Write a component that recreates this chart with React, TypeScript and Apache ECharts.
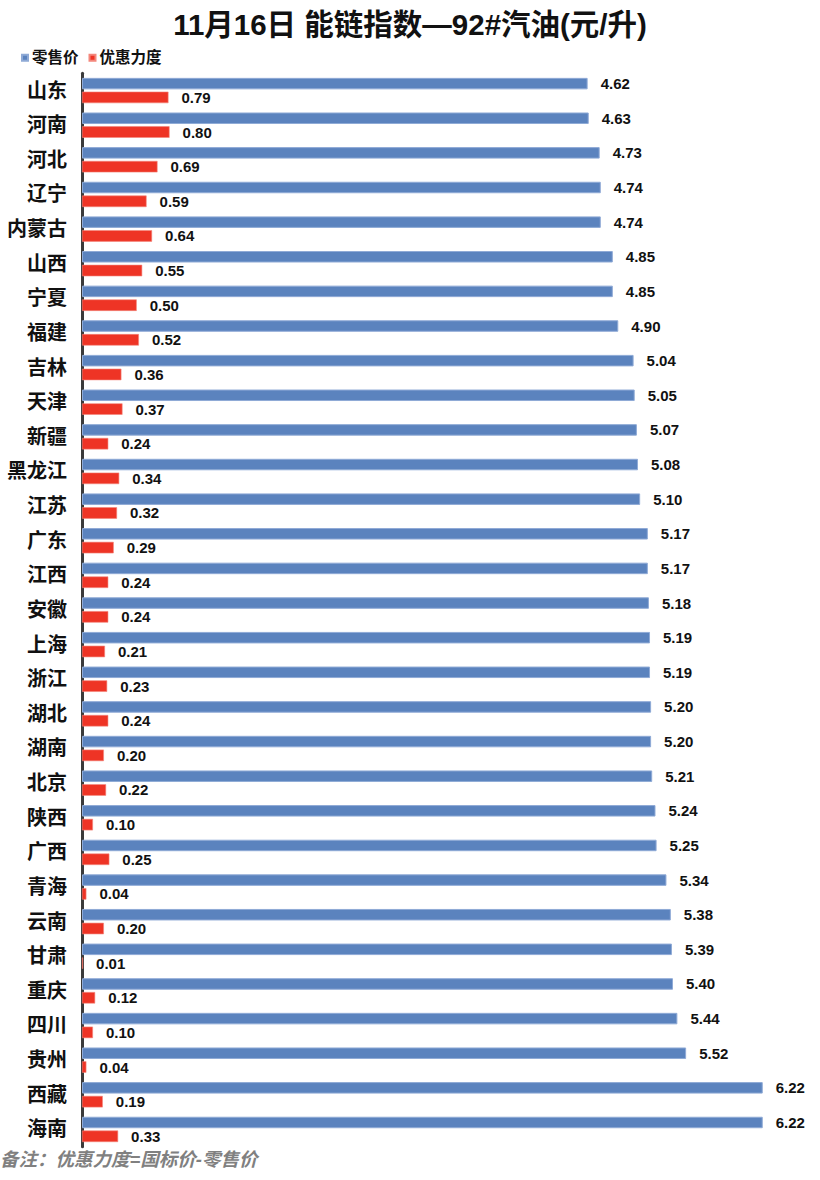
import React, { useEffect, useRef } from "react";
import * as echarts from "echarts";

const provinces = [
  "山东", "河南", "河北", "辽宁", "内蒙古", "山西", "宁夏", "福建", "吉林", "天津",
  "新疆", "黑龙江", "江苏", "广东", "江西", "安徽", "上海", "浙江", "湖北", "湖南",
  "北京", "陕西", "广西", "青海", "云南", "甘肃", "重庆", "四川", "贵州", "西藏", "海南",
];
const retailPrice = [
  4.62, 4.63, 4.73, 4.74, 4.74, 4.85, 4.85, 4.9, 5.04, 5.05,
  5.07, 5.08, 5.1, 5.17, 5.17, 5.18, 5.19, 5.19, 5.2, 5.2,
  5.21, 5.24, 5.25, 5.34, 5.38, 5.39, 5.4, 5.44, 5.52, 6.22, 6.22,
];
const discount = [
  0.79, 0.8, 0.69, 0.59, 0.64, 0.55, 0.5, 0.52, 0.36, 0.37,
  0.24, 0.34, 0.32, 0.29, 0.24, 0.24, 0.21, 0.23, 0.24, 0.2,
  0.22, 0.1, 0.25, 0.04, 0.2, 0.01, 0.12, 0.1, 0.04, 0.19, 0.33,
];
const seriesNames = ["零售价", "优惠力度"];
const titleText = "11月16日 能链指数—92#汽油(元/升)";
const noteText = "备注：优惠力度=国标价-零售价";

const FONT = '"Liberation Sans", "Noto Sans CJK SC", sans-serif';

export default function App() {
  const ref = useRef<HTMLDivElement>(null);
  useEffect(() => {
    document.body.style.margin = "0";
    if (!ref.current) return;
    const chart = echarts.init(ref.current, null, { renderer: "svg" });
    const labelStyle = {
      show: true,
      position: "right" as const,
      distance: 13,
      color: "#111",
      fontSize: 15,
      fontWeight: "bold" as const,
      fontFamily: FONT,
      formatter: (p: any) => Number(p.value).toFixed(2),
    };
    chart.setOption({
      animation: false,
      backgroundColor: "#ffffff",
      textStyle: { fontFamily: FONT },
      title: {
        text: titleText,
        left: "center",
        top: 5,
        textStyle: { fontSize: 29.5, fontWeight: "bold", color: "#111", fontFamily: FONT },
      },
      legend: {
        data: seriesNames,
        left: 16,
        top: 45,
        icon: "rect",
        itemWidth: 6,
        itemHeight: 6,
        itemGap: 10,
        textStyle: { fontSize: 15.5, fontWeight: "bold", color: "#111", fontFamily: FONT, padding: [0, 0, 0, -1] },
      },
      grid: { left: 82, top: 73.2, width: 730, height: 1073.5, containLabel: false },
      xAxis: {
        type: "value",
        min: 0,
        max: 6.67,
        show: false,
        splitLine: { show: false },
      },
      yAxis: {
        type: "category",
        data: provinces,
        inverse: true,
        axisLine: { show: true, lineStyle: { color: "#3a3a3a", width: 3 } },
        axisTick: { show: false },
        axisLabel: {
          fontSize: 20,
          fontWeight: "bold",
          color: "#111",
          margin: 15,
          fontFamily: FONT,
        },
      },
      series: [
        {
          name: seriesNames[0],
          type: "bar",
          data: retailPrice,
          barWidth: 11.5,
          barGap: "20%",
          itemStyle: { color: "#5B83BE", borderColor: "#8FAAD6", borderWidth: 1 },
          label: labelStyle,
        },
        {
          name: seriesNames[1],
          type: "bar",
          data: discount,
          barWidth: 11.5,
          itemStyle: { color: "#EE3425", borderColor: "#F4877C", borderWidth: 0.6 },
          label: labelStyle,
        },
      ],
      graphic: [
        {
          type: "text",
          left: 0,
          top: 1150,
          style: {
            text: noteText,
            fontSize: 18.5,
            fontStyle: "italic",
            fontWeight: "bold",
            fill: "#808080",
            fontFamily: FONT,
          },
        },
      ],
    });
    return () => chart.dispose();
  }, []);
  return <div ref={ref} style={{ width: 820, height: 1180 }} />;
}
